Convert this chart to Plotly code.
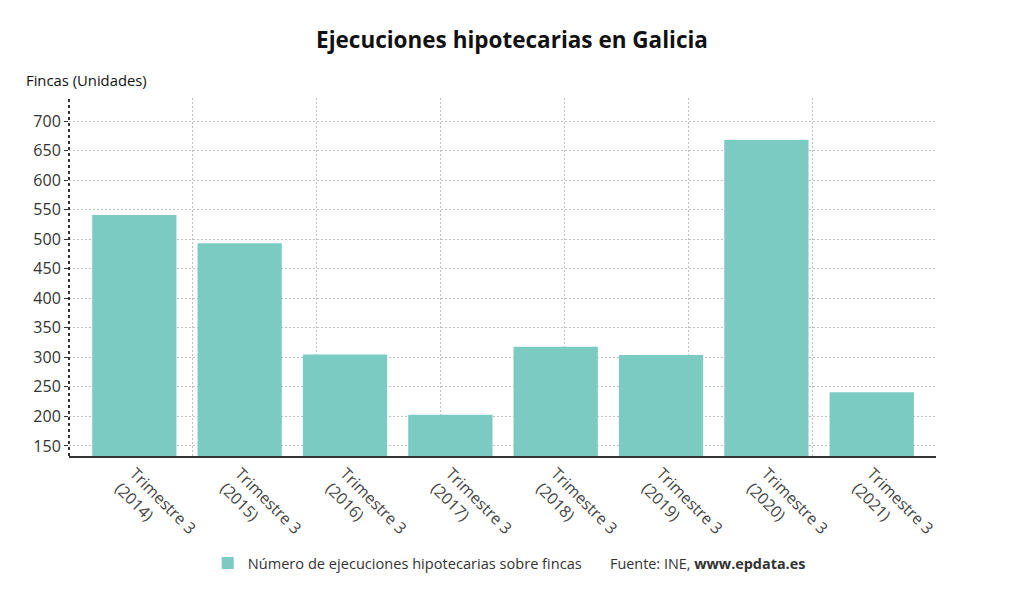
import plotly.graph_objects as go

categories = ["Trimestre 3<br>(2014)", "Trimestre 3<br>(2015)", "Trimestre 3<br>(2016)",
              "Trimestre 3<br>(2017)", "Trimestre 3<br>(2018)", "Trimestre 3<br>(2019)",
              "Trimestre 3<br>(2020)", "Trimestre 3<br>(2021)"]
values = [541, 493, 305, 203, 318, 304, 668, 241]
y_ticks = [150, 200, 250, 300, 350, 400, 450, 500, 550, 600, 650, 700]

FONT = "Open Sans"
TEAL = "#7ccbc3"
GRID_DASH = "2px,2px"

fig = go.Figure()
fig.add_trace(go.Bar(x=categories, y=values, marker=dict(color=TEAL, line=dict(width=0)),
                     width=0.8, name="Número de ejecuciones hipotecarias sobre fincas",
                     hoverinfo="skip"))
# invisible trace to drive secondary x grid
fig.add_trace(go.Scatter(x=[0, 7], y=[None, None], xaxis="x2", showlegend=False,
                         hoverinfo="skip", mode="markers"))

fig.update_layout(
    width=1024, height=601,
    paper_bgcolor="white", plot_bgcolor="white",
    margin=dict(l=69, r=88, t=98, b=145),
    font=dict(family=FONT, color="#333333", size=15),
    title=dict(text="<b>Ejecuciones hipotecarias en Galicia</b>", x=0.5, xanchor="center",
               y=0.933, yanchor="middle", font=dict(size=22.5, color="#111111", family=FONT)),
    xaxis=dict(range=[-0.62, 7.61], tickangle=45, showgrid=False, showline=True,
               linecolor="#333333", linewidth=2, ticks="", tickfont=dict(size=16, color="#444444")),
    xaxis2=dict(range=[0, 7], overlaying="x", side="top", showticklabels=False,
                showgrid=True, gridcolor="#c0c0c0", griddash=GRID_DASH, gridwidth=1,
                dtick=1, tick0=0, zeroline=False, showline=False, ticks=""),
    yaxis=dict(range=[133, 739], tickvals=y_ticks, showgrid=True, gridcolor="#c0c0c0",
               griddash=GRID_DASH, gridwidth=1, zeroline=False, showline=False,
               ticks="outside", ticklen=4, tickcolor="#333333",
               tickfont=dict(size=16, color="#333333")),
    showlegend=True,
    legend=dict(orientation="h", x=0.160, xanchor="left", y=-0.299, yanchor="middle",
                font=dict(size=14.6, color="#333333")),
    bargap=0.2,
)

fig.add_shape(type="line", xref="paper", yref="paper", x0=0, x1=0, y0=0, y1=1,
              line=dict(color="#333333", width=2, dash="dot"))

fig.add_annotation(text="Fincas (Unidades)", xref="paper", yref="paper",
                   x=-0.052, y=1.050, xanchor="left", yanchor="middle", showarrow=False,
                   font=dict(size=14.8, color="#111111", family=FONT))
fig.add_annotation(text="Fuente: INE, <b>www.epdata.es</b>", xref="paper", yref="paper",
                   x=0.622, y=-0.299, xanchor="left", yanchor="middle", showarrow=False,
                   font=dict(size=14.4, color="#333333", family=FONT))

fig.write_html("out.html", config={"displayModeBar": False},
               post_script="document.body.style.margin='0';")
